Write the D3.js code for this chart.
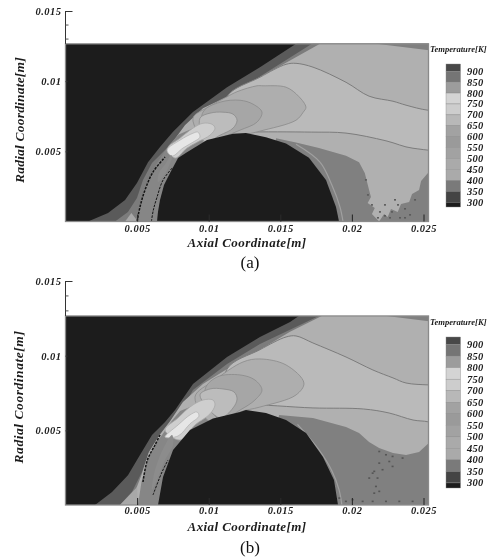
<!DOCTYPE html>
<html><head><meta charset="utf-8">
<script src="https://cdn.jsdelivr.net/npm/d3@7/dist/d3.min.js"></script>
<style>
html,body{margin:0;padding:0;background:#fff;overflow:hidden}
svg{display:block}
text{font-family:"Liberation Serif",serif}
.lab{font-weight:bold;font-style:italic;fill:#1c1c1c}
</style></head><body>
<svg id="c" width="492" height="560"></svg>
<script>
// Axis values (millimetres; labels are in metres)
const xTicks=[5,10,15,20,25], xTickLabels=['0.005','0.01','0.015','0.02','0.025'];
const yTicks=[5,10,15], yTickLabels=['0.005','0.01','0.015'];
const yMinorTicks=[13,14];
const plotXMax=25.35, plotYMax=12.66;
// Temperature legend
const legendLevels=[900,850,800,750,700,650,600,550,500,450,400,350,300];
const legendEdges=[933,900,850,800,750,700,650,600,550,500,450,400,350,300,278];
const legendGreys=['#484848','#757575','#9c9c9c','#d4d4d4','#cdcdcd','#b8b8b8','#a2a2a2','#9a9a9a','#a2a2a2','#aaaaaa','#aaaaaa','#7a7a7a','#444444','#1c1c1c'];
const far=[[27,14],[27,-1.5]];

// Panel (a) contour regions, [axial mm, radial mm]
const shockA=[[1.57,0],[2.97,.6],[4.16,1.53],[4.99,2.74],[5.76,4.23],[6.6,5.3],[7.51,6.39],[8.9,7.81],[11.28,9.57],[13.58,11],[16.1,12.66],[17,13.3]];
const sheathA=[[3.46,0],[4.36,.68],[4.99,1.67],[5.41,2.95],[6.04,4.16],[6.95,5.09],[8,6.15],[9.39,7.43],[11.49,8.99],[13.72,10.42],[17.21,12.66],[18,13.3]];
const mainA=[[5.06,0],[5.2,1.03],[5.69,2.45],[6.39,4.02],[7.3,5.42],[8.34,6.86],[9.6,8.07],[11.28,8.89],[13.58,10.28],[15.68,11.48],[17.77,12.66],[18.6,13.3]];
const noseA=[[5,-.5],[5,0],[5.15,1.03],[5.6,2.45],[6.3,4.02],[7.2,5.42],[7.9,6.2],[9.04,6.7],[10.44,5.8],[9,3],[8,-.5]];
const midA=[[11.28,8.89],[13.58,10.28],[15.4,11.2],[16.1,11.27],[17.28,11],[19.59,9.92],[21.2,8.93],[22.87,8.57],[23.78,8.29],[25.31,7.93],[27,7.9],[27,5.3],[24.27,5.22],[22.38,5.75],[19.59,6.3],[17.2,6.37],[12.6,6.37],[11.28,6.3]];
const coolA=[[14.7,5.94],[16.1,5.63],[17.7,5.23],[19.59,4.69],[20.5,4.23],[20.9,3.45],[21.2,2.24],[21.33,1.74],[21.1,1.32],[21.6,.96],[21.4,.53],[21.9,0],[22.25,.53],[22.5,.32],[22.73,.89],[23.2,.68],[23.43,1.24],[24,1.39],[24.2,1.96],[24.69,2.24],[24.83,2.88],[25.31,3.45],[27,3.4],[27,-1.5],[14,-1.5]];
const cornerA=[[21.7,12.66],[25.4,12.2],[27,12.2],[27,14],[21.7,14]];
const lobe3A=[[8.9,7.36],[10.09,8.21],[11.28,8.89],[11.98,9.25],[13.37,9.67],[13.79,9.67],[15.4,9.57],[16.3,8.9],[16.79,8.14],[16.6,7.79],[16.1,7.22],[13.58,6.44],[12.4,6.15],[11.28,5.8],[10.09,5.44]];
const lobe2A=[[9.6,7.79],[10.79,8.5],[12.19,8.64],[13.1,8.36],[13.72,7.79],[13.37,7.08],[12.19,6.51],[11,6.01],[9.74,5.44]];
const lobe15A=[[9.39,7.36],[10.09,7.72],[11,7.79],[11.7,7.65],[11.98,7.22],[11.7,6.65],[10.79,6.15],[9.74,5.65]];
const lobe1A=[[7.16,5.23],[8,5.94],[8.9,6.65],[9.6,7],[10.23,6.93],[10.44,6.65],[10.09,6.15],[9.18,5.65],[8.48,5.23],[7.65,4.52]];
const lobe0A=[[7.09,5.09],[8,5.8],[8.9,6.29],[9.25,6.37],[9.39,6.01],[8.9,5.65],[8.2,5.23],[7.44,4.66]];
const noseCoreA=[[7.37,4.73],[7.02,4.16],[6.53,3.45],[6.46,2.81],[6.88,3.27],[7.23,3.98],[7.44,4.58]];
const bodyA=[[6.39,-1],[6.39,0],[6.46,.7],[6.6,1.53],[6.88,2.6],[7.3,3.45],[7.86,4.52],[8.48,4.94],[9.88,5.8],[11.7,6.26],[12.6,6.3],[14,6],[15.4,5.55],[17,4.55],[18.19,2.95],[18.89,1.03],[19.1,0],[19.1,-1]];
const shockLineA=[[5,0],[5.2,1.03],[5.55,2.24],[6.11,3.52],[6.95,4.59]];
const bodyLineA=[[6,0],[6.13,.8],[6.39,1.73],[6.81,2.95],[7.51,3.88]];
const wallLineA=[[16.1,5.5],[17.77,4.23],[18.6,2.6],[19.17,1.03],[19.38,0]];
const baseLightA=[[4.16,0],[4.6,.6],[5.06,0]];
const flecksA=[[20.98,2.95],[21.12,1.88],[21.4,1.17],[21.96,.67],[22.31,1.17],[22.8,.67],[23.22,1.17],[23.71,.89],[22.66,.25],[23.36,.25],[24.06,.46],[21.82,.25],[24.41,1.53],[23.01,1.53],[22.31,.39],[23.71,.25]];

// Panel (b) contour regions
const shockB=[[2.06,0],[3.25,.87],[4.36,2],[5.2,3.35],[6.04,4.69],[6.95,5.56],[7.65,6.36],[8.9,8.1],[11.28,9.91],[13.58,11.25],[15.68,12.26],[16.3,12.66],[17.2,13.3]];
const sheathB=[[3.8,0],[4.64,.87],[5.34,2.21],[5.9,3.68],[6.74,4.69],[7.65,5.56],[8.9,7.7],[11.28,9.44],[13.58,10.78],[17.7,12.66],[18.6,13.3]];
const mainB=[[4.6,0],[4.9,1],[5.3,2],[5.8,3.5],[6.5,4.6],[7.3,5.6],[8.2,6.9],[9.6,8.1],[11.28,9.1],[13.58,10.4],[15.68,11.6],[17.9,12.66],[18.8,13.3]];
const noseB=[[5,-.5],[5.06,0],[5.3,1.5],[5.72,3.02],[6.2,4.02],[6.74,4.69],[7.4,5.6],[8,6.3],[9.04,6.7],[10.44,5.8],[9,3],[8,-.5]];
const midB=[[11.28,9.1],[13.58,10.4],[15.4,11.25],[16.1,11.32],[17.28,10.85],[19.59,9.91],[21.47,9.04],[22.87,8.51],[23.78,8.17],[25.37,8.04],[27,8],[27,5],[25.37,5.56],[24.27,5.69],[22.6,6.16],[20.8,6.43],[17.28,6.5],[12.6,6.7],[11.28,6.5]];
const coolB=[[14.91,6.03],[17.28,5.83],[19.59,5.22],[20.5,4.82],[21.2,4.22],[21.9,3.82],[22.87,3.48],[23.78,3.35],[24.69,3.55],[25.37,4.15],[27,4.1],[27,-1.5],[14,-1.5]];
const cornerB=[[22.4,12.66],[25.37,12.3],[27,12.3],[27,14],[22.4,14]];
const lobe3B=[[9.04,7.23],[10.44,8.37],[12.4,9.58],[13.58,9.78],[15.4,9.38],[16.65,8.17],[16.1,7.37],[13.58,6.56],[12.19,6.23],[10.44,5.36]];
const lobe2B=[[9.74,7.7],[10.58,8.57],[12.19,8.71],[13.23,8.37],[13.72,7.7],[13.23,7.03],[12.19,6.36],[10.79,5.69]];
const lobe15B=[[9.39,7.37],[10.09,7.77],[11,7.77],[11.77,7.57],[11.98,7.1],[11.7,6.5],[10.79,5.83]];
const lobe1B=[[6.95,5.02],[7.86,5.83],[8.69,6.56],[9.6,7.03],[10.3,7.03],[10.44,6.7],[10.09,6.1],[9.04,5.36],[8,4.35]];
const lobe0B=[[6.95,4.55],[7.86,5.36],[8.69,6.03],[9.18,6.23],[9.32,5.96],[8.69,5.43],[7.86,4.62]];
const noseCoreB=[[7.44,4.69],[6.95,4.02],[6.25,2.34],[6.04,1],[6.39,1.67],[6.95,3.01],[7.51,4.02]];
const bodyB=[[6.46,-1],[6.46,0],[6.81,1.87],[7.51,3.68],[8.69,5.02],[10.3,5.8],[12.19,6.23],[12.6,6.36],[14,6.16],[15.4,5.69],[16.8,4.82],[17.98,3.22],[18.75,1.67],[19.03,0],[19.03,-1]];
const shockLineB=[[5.41,1.54],[5.72,3.02],[6.25,4.02],[6.6,4.69]];
const bodyLineB=[[6.11,.67],[6.74,2.21],[7.16,3.01]];
const wallLineB=[[16.2,5.4],[17.7,3.7],[18.6,2.3],[19.1,1.03],[19.3,0]];
const baseLightB=[[3.8,0],[4.3,.5],[5,1.2],[5.06,0]];
const flecksB=[[21.91,3.57],[22.38,3.35],[22.84,3.24],[23.54,3.13],[22.61,2.9],[21.91,2.79],[21.45,2.12],[21.21,1.79],[21.56,2.24],[21.79,1.79],[22.14,2.35],[21.68,1.23],[21.91,.9],[21.56,.78],[19.12,.45],[20.05,.34],[20.75,.23],[21.45,.23],[22.38,.23],[23.31,.23],[24.24,.23],[19.58,.23],[22.84,2.57]];

const panels=[
 {id:'a',cap:'(a)',capY:268,top:43.8,bot:221.5,y15:11,pad:3,titleY:247,yTitleX:24,yTitleY:120,yLs:.2,lgTop:64,lgBot:207,lgTitleY:52,
  shock:shockA,sheath:sheathA,main:mainA,nose:noseA,mid:midA,cool:coolA,corner:cornerA,l3:lobe3A,l2:lobe2A,l15:lobe15A,l1:lobe1A,l0:lobe0A,core:noseCoreA,body:bodyA,sLine:shockLineA,bLine:bodyLineA,wall:wallLineA,baseL:baseLightA,flecks:flecksA},
 {id:'b',cap:'(b)',capY:553,top:316,bot:505,y15:281,pad:2,titleY:531,yTitleX:23,yTitleY:397,yLs:.55,lgTop:337,lgBot:488,lgTitleY:325,
  shock:shockB,sheath:sheathB,main:mainB,nose:noseB,mid:midB,cool:coolB,corner:cornerB,l3:lobe3B,l2:lobe2B,l15:lobe15B,l1:lobe1B,l0:lobe0B,core:noseCoreB,body:bodyB,sLine:shockLineB,bLine:bodyLineB,wall:wallLineB,baseL:baseLightB,flecks:flecksB}
];

const svg=d3.select('#c');
const root=svg.append('g').style('filter','blur(0.7px)');
const defs=svg.append('defs');
const xS=d3.scaleLinear().domain([0,25]).range([65.5,423.5]);

panels.forEach(p=>{
  const yS=d3.scaleLinear().domain([0,15]).range([p.bot,p.y15]);
  const closed=d3.line().x(d=>xS(d[0])).y(d=>yS(d[1])).curve(d3.curveCatmullRomClosed.alpha(.5));
  const poly=d3.line().x(d=>xS(d[0])).y(d=>yS(d[1])).curve(d3.curveLinearClosed);
  const open=d3.line().x(d=>xS(d[0])).y(d=>yS(d[1])).curve(d3.curveCatmullRom.alpha(.5));
  const x0=xS(0),x1=xS(plotXMax),y1=yS(plotYMax),y0=yS(0);
  defs.append('clipPath').attr('id','clip'+p.id).append('rect').attr('x',x0).attr('y',y1).attr('width',x1-x0).attr('height',y0-y1);
  const g=root.append('g');
  const f=g.append('g').attr('clip-path',`url(#clip${p.id})`);
  f.append('rect').attr('x',x0).attr('y',y1).attr('width',x1-x0).attr('height',y0-y1).attr('fill','#1c1c1c');
  const fill=(pts,c,gen)=>f.append('path').attr('d',(gen||closed)(pts)).attr('fill',c);
  const env=a=>[...a,...far,[a[0][0],-1.5]];
  fill(env(p.shock),'#5a5a5a',poly);
  fill(env(p.sheath),'#7c7c7c',poly);
  fill(env(p.main),'#b0b0b0',poly);
  fill(p.corner,'#808080',poly);
  fill(p.nose,'#868686',poly);
  fill(p.baseL,'#a8a8a8',poly);
  // contour band bounded by the two long isolines
  f.append('path').attr('d',closed(p.mid)).attr('fill','#bababa').attr('stroke','#7c7c7c').attr('stroke-width',1);
  fill(p.cool,'#808080',poly);
  f.append('path').attr('d',open(p.wall)).attr('fill','none').attr('stroke','#a0a0a0').attr('stroke-width',1.2);
  const lobe=(pts,c,s)=>f.append('path').attr('d',closed(pts)).attr('fill',c).attr('stroke',s).attr('stroke-width',.8);
  lobe(p.l3,'#aeaeae','#8a8a8a');
  lobe(p.l2,'#a6a6a6','#8a8a8a');
  lobe(p.l15,'#bcbcbc','#8a8a8a');
  lobe(p.l1,'#cecece','#a8a8a8');
  lobe(p.l0,'#e6e6e6','#b4b4b4');
  fill(p.core,'#8c8c8c');
  fill(p.body,'#1c1c1c',poly);
  f.selectAll('path.sl').data([p.sLine,p.bLine]).enter().append('path').attr('class','sl')
    .attr('d',open).attr('fill','none').attr('stroke','#141414').attr('stroke-width',(d,i)=>i?1:1.5).attr('stroke-dasharray','2.5 1.2');
  f.selectAll('rect.fl').data(p.flecks).enter().append('rect').attr('class','fl')
    .attr('x',d=>xS(d[0])-1).attr('y',d=>yS(d[1])-1).attr('width',2).attr('height',1.6)
    .attr('fill',p.id==='a'?'#5a5a5a':'#555');

  // frame and axes
  g.append('rect').attr('x',x0).attr('y',y1).attr('width',x1-x0).attr('height',y0-y1).attr('fill','none').attr('stroke','#8a8a8a').attr('stroke-width',1.3);
  const ax=g.append('g').attr('transform',`translate(0,${y0})`)
    .call(d3.axisBottom(xS).tickValues(xTicks).tickSize(-7).tickPadding(p.pad).tickFormat((d,i)=>xTickLabels[i]));
  const ay=g.append('g').attr('transform',`translate(${x0},0)`)
    .call(d3.axisLeft(yS).tickValues(yTicks).tickSize(-7).tickPadding(4).tickFormat((d,i)=>yTickLabels[i]));
  ax.select('.domain').remove();
  ay.select('.domain').attr('d',`M0,${yS(15)}V${y1}`).attr('stroke','#333').attr('stroke-width',1);
  ay.selectAll('.tick line').attr('stroke','#333');
  ax.selectAll('.tick line').attr('stroke','#2a2a2a').attr('stroke-width',1.1);
  [ax,ay].forEach(a=>a.selectAll('text').attr('class','lab').attr('font-family','Liberation Serif').attr('font-size',10.5).style('letter-spacing','.5px'));
  ay.selectAll('.tick').filter(d=>d!==15).select('line').attr('x2',2);
  g.selectAll('line.minor').data(yMinorTicks).enter().append('line').attr('class','minor')
    .attr('x1',x0).attr('x2',x0+3).attr('y1',d=>yS(d)).attr('y2',d=>yS(d)).attr('stroke','#555');

  g.append('text').attr('class','lab').attr('x',247).attr('y',p.titleY).attr('text-anchor','middle').attr('font-size',13).style('letter-spacing','.42px').text('Axial Coordinate[m]');
  g.append('text').attr('class','lab').attr('transform',`translate(${p.yTitleX},${p.yTitleY}) rotate(-90)`).attr('text-anchor','middle').attr('font-size',13.5).style('letter-spacing',p.yLs+'px').text('Radial Coordinate[m]');
  g.append('text').attr('x',250).attr('y',p.capY).attr('text-anchor','middle').attr('font-size',17).attr('fill','#111').text(p.cap);

  // legend
  const lg=d3.scaleLinear().domain([d3.max(legendEdges),d3.min(legendEdges)]).range([p.lgTop,p.lgBot]);
  g.append('text').attr('class','lab').attr('x',430).attr('y',p.lgTitleY).attr('font-size',8.6).text('Temperature[K]');
  g.selectAll('rect.lg').data(legendGreys).enter().append('rect').attr('class','lg')
    .attr('x',446).attr('width',14.5).attr('y',(d,i)=>lg(legendEdges[i])).attr('height',(d,i)=>lg(legendEdges[i+1])-lg(legendEdges[i]))
    .attr('fill',d=>d).attr('stroke','#888').attr('stroke-width',.4);
  g.selectAll('text.lv').data(legendLevels).enter().append('text').attr('class','lab lv')
    .attr('x',467).attr('y',d=>lg(d)+3.5).attr('font-size',10.5).style('letter-spacing','.3px').text(d=>d);
});
</script></body></html>
